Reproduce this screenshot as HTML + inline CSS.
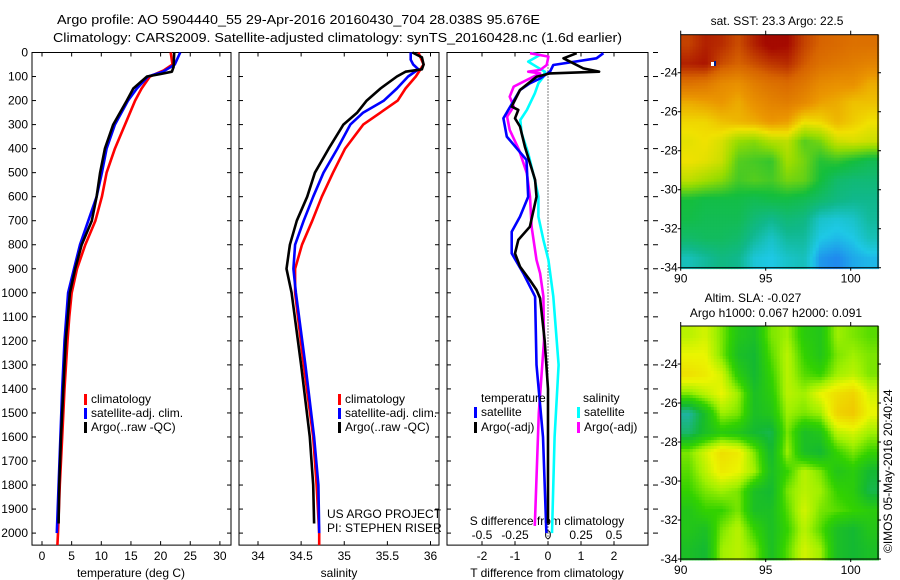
<!DOCTYPE html>
<html><head><meta charset="utf-8"><style>
html,body{margin:0;padding:0;background:#fff;}
svg{display:block;font-family:"Liberation Sans",sans-serif;}
text{fill:#000;}
</style></head><body>
<svg id="chart" width="900" height="580" viewBox="0 0 900 580" xmlns="http://www.w3.org/2000/svg">
<text x="57" y="24" font-size="13" textLength="483" lengthAdjust="spacingAndGlyphs">Argo profile: AO 5904440_55 29-Apr-2016 20160430_704 28.038S 95.676E</text>
<text x="53" y="42" font-size="13" textLength="569" lengthAdjust="spacingAndGlyphs">Climatology: CARS2009. Satellite-adjusted climatology: synTS_20160428.nc (1.6d earlier)</text>
<g id="g1"></g>
<g id="g2"></g>
<g id="g3"></g>
<g id="m1"></g>
<g id="m2"></g>
<text x="777" y="25" font-size="12" text-anchor="middle">sat. SST: 23.3 Argo: 22.5</text>
<text x="753" y="302" font-size="12" text-anchor="middle">Altim. SLA: -0.027</text>
<text x="776" y="317" font-size="12" text-anchor="middle">Argo h1000: 0.067 h2000: 0.091</text>
<text transform="translate(892,553) rotate(-90)" font-size="12">©IMOS 05-May-2016 20:40:24</text>
<text x="327" y="518" font-size="12">US ARGO PROJECT</text>
<text x="327" y="532" font-size="12">PI: STEPHEN RISER</text>
</svg>
<script>
// ---- data ----
const tempClimDepth=[0,50,75,100,150,200,300,400,500,600,700,800,900,1000,1100,1200,1400,1600,1800,2000,2050];
const tempClim=[21.7,22.0,20.5,18.2,16.8,15.7,14.0,12.3,10.9,10.1,9.0,7.3,5.9,5.0,4.6,4.3,3.8,3.4,3.0,2.7,2.6];
const tempSatDepth=[0,50,80,100,150,200,300,400,500,600,700,800,900,1000,1200,1400,1600,1800,2000];
const tempSat=[23.3,22.4,20.4,17.9,16.0,14.5,12.3,10.9,10.1,9.2,7.8,6.4,5.4,4.4,3.8,3.4,3.1,2.8,2.5];
const tempArgoDepth=[0,60,80,90,100,150,200,300,400,500,600,700,800,900,1000,1200,1400,1600,1800,1960];
const tempArgo=[22.3,22.2,21.9,19.9,17.7,15.4,14.3,12.0,10.6,9.8,9.2,8.4,6.7,5.6,4.7,4.0,3.6,3.2,2.9,2.8];

const salClimDepth=[0,50,100,150,200,300,400,500,600,700,800,900,1000,1300,1600,1800,2000,2050];
const salClim=[35.86,35.92,35.83,35.71,35.62,35.22,35.01,34.87,34.74,34.63,34.51,34.43,34.43,34.53,34.64,34.68,34.71,34.71];
const salSatDepth=[0,30,50,70,100,150,200,250,300,400,500,600,700,800,900,1000,1300,1600,1800,2000];
const salSat=[35.77,35.77,35.8,35.86,35.74,35.61,35.46,35.22,35.07,34.92,34.76,34.64,34.53,34.43,34.41,34.44,34.55,34.65,34.70,34.71];
const salArgoDepth=[0,20,50,70,80,100,150,200,250,300,400,500,600,700,800,900,1000,1300,1600,1800,1960];
const salArgo=[35.79,35.9,35.92,35.9,35.71,35.61,35.42,35.26,35.15,34.99,34.82,34.66,34.57,34.45,34.37,34.33,34.39,34.5,34.6,34.64,34.65];

const dTSatDepth=[3,24,52,80,108,128,156,274,350,447,600,683,746,836,919,1016,1300,1600,2000];
const dTSat=[1.68,1.47,0.16,0.06,-0.24,-0.55,-0.85,-1.35,-1.25,-0.65,-0.6,-0.85,-1.1,-1.1,-0.75,-0.39,-0.35,-0.15,-0.05];
const dTArgoDepth=[3,24,66,80,87,101,156,225,239,274,308,392,530,600,725,780,836,891,947,988,1023,1200,1400,1960];
const dTArgo=[0.87,0.47,1.07,1.55,0.06,-0.35,-0.85,-1.1,-0.9,-1.0,-0.85,-0.7,-0.39,-0.35,-0.55,-0.9,-1.0,-0.85,-0.55,-0.35,-0.24,-0.1,0.0,0.0];
const dSSatDepth=[3,10,38,59,80,101,128,170,239,281,336,419,530,600,683,780,863,1016,1300,1600,2000];
const dSSat=[-0.124,-0.06,-0.15,-0.087,-0.023,-0.035,-0.073,-0.1,-0.16,-0.21,-0.2,-0.15,-0.1,-0.073,-0.073,-0.035,0.003,0.04,0.08,0.05,0.03];
const dSArgoDepth=[3,17,52,73,80,87,114,142,184,225,267,322,405,503,600,725,863,919,1016,1200,1500,1970];
const dSArgo=[-0.136,0.003,-0.01,-0.06,-0.15,-0.06,-0.16,-0.26,-0.29,-0.26,-0.31,-0.29,-0.22,-0.16,-0.136,-0.124,-0.087,-0.06,-0.035,-0.03,-0.07,-0.1];

const depthTicks=[0,100,200,300,400,500,600,700,800,900,1000,1100,1200,1300,1400,1500,1600,1700,1800,1900,2000];
const tempTicks=[0,5,10,15,20,25,30];
const salTicks=[34,34.5,35,35.5,36];
const salTickLabels=["34","34.5","35","35.5","36"];
const dTTicks=[-2,-1,0,1,2];
const dSTicks=[-0.5,-0.25,0,0.25,0.5];
const dSTickLabels=["-0.5","-0.25","0","0.25","0.5"];
const lonTicks=[90,95,100];
const latTicks=[-24,-26,-28,-30,-32,-34];

const sstGrid=[
[24.3,24.6,24.5,24.2,24.6,24.9,24.8,24.3,24.0,23.9,23.8,23.8],
[24.6,24.7,24.2,24.0,24.2,24.4,24.5,24.1,23.8,23.7,23.6,23.5],
[23.8,23.7,23.4,23.3,23.6,23.8,23.9,23.7,23.4,23.3,23.3,23.0],
[23.0,23.1,23.2,23.0,23.3,23.5,23.6,23.4,23.1,23.0,22.8,22.8],
[22.6,22.6,22.8,22.9,23.0,23.2,23.1,22.5,22.6,22.9,22.7,22.5],
[22.4,22.5,22.3,21.8,21.7,22.0,22.1,21.4,21.6,22.2,22.3,22.2],
[22.5,22.4,22.2,21.4,21.3,21.2,21.9,21.6,21.1,21.2,21.0,20.8],
[22.1,21.9,21.7,21.3,21.4,21.3,21.6,21.5,21.0,20.6,20.5,20.5],
[21.0,20.9,20.9,20.9,20.8,20.9,20.9,20.8,20.6,20.4,20.3,20.3],
[20.9,20.8,20.8,20.8,20.5,20.3,20.5,20.4,19.9,19.8,19.9,20.2],
[20.6,20.7,20.7,20.6,20.2,19.9,20.2,20.2,19.7,19.6,19.7,20.0],
[20.0,20.2,20.4,20.3,19.8,19.7,19.9,20.0,19.4,19.3,19.5,19.6]];
const slaGrid=[
[0.4,0.5,0.2,-0.2,-0.3,0.2,0.3,-0.1,-0.2,0.3,0.2,0.1],
[0.6,0.6,0.2,-0.3,-0.4,0.1,0.4,0.0,-0.2,0.2,0.3,0.2],
[0.8,0.7,0.5,-0.1,-0.4,0.0,0.4,0.1,0.0,0.3,0.4,0.2],
[0.2,0.4,0.6,0.3,-0.3,-0.1,0.4,0.3,0.6,0.8,0.9,0.5],
[-0.8,-0.3,0.3,0.2,-0.3,-0.2,0.3,0.2,0.3,0.9,1.0,0.6],
[-0.6,-0.3,-0.1,-0.2,-0.4,-0.5,0.2,-0.3,-0.2,0.4,0.5,0.3],
[0.2,0.5,0.8,0.7,0.2,-0.4,0.3,-0.3,-0.4,0.0,0.2,0.0],
[0.1,0.4,0.7,0.6,0.3,-0.3,0.0,0.4,0.2,-0.2,-0.1,-0.4],
[0.0,0.2,0.3,0.2,-0.3,-0.4,0.2,0.4,0.3,0.0,-0.1,-0.5],
[-0.2,0.0,0.0,0.2,-0.3,-0.3,0.1,0.5,0.2,0.1,0.0,-0.1],
[-0.2,-0.3,0.2,0.4,0.0,-0.3,0.0,0.4,0.1,-0.3,-0.4,-0.2],
[-0.3,-0.4,0.3,0.4,0.2,-0.3,0.1,0.5,0.3,-0.3,-0.4,-0.3]];

// ---- scales ----
const NS="http://www.w3.org/2000/svg";
const yD=d=>52.5+d*0.2403;
const xT=t=>42+t*5.93;
const xS=s=>258+(s-34)*86.25;
const xDT=t=>548+t*33;
const xDS=s=>548+s*132;
function mk(parent,tag,attrs){const e=document.createElementNS(NS,tag);for(const k in attrs)e.setAttribute(k,attrs[k]);parent.appendChild(e);return e;}
function txt(parent,x,y,s,anchor,size){const e=mk(parent,'text',{x:x,y:y,'font-size':size||12,'text-anchor':anchor||'start'});e.textContent=s;return e;}
function line(parent,depths,vals,xf,color,name){
  const pts=depths.map((d,i)=>xf(vals[i]).toFixed(1)+','+yD(d).toFixed(1)).join(' ');
  const e=mk(parent,'polyline',{points:pts,fill:'none',stroke:color,'stroke-width':2.6,'stroke-linejoin':'round'});
  
  
}
function frame(g,x0,x1,name){
  const r=mk(g,'rect',{x:x0,y:yD(0),width:x1-x0,height:yD(2050)-yD(0),fill:'none',stroke:'#000','stroke-width':1});
  
  
  depthTicks.forEach(d=>{mk(g,'line',{x1:x0,x2:x0+4,y1:yD(d),y2:yD(d),stroke:'#000'});mk(g,'line',{x1:x1,x2:x1-4,y1:yD(d),y2:yD(d),stroke:'#000'});});
}
function xticks(g,vals,labels,xf){
  vals.forEach((v,i)=>{const x=xf(v);
    mk(g,'line',{x1:x,x2:x,y1:yD(0),y2:yD(0)+4,stroke:'#000'});
    mk(g,'line',{x1:x,x2:x,y1:yD(2050),y2:yD(2050)-4,stroke:'#000'});
    const t=txt(g,x,560,labels[i],'middle');
    
    });
}
function legendBar(g,x,y,color){mk(g,'rect',{x:x,y:y-9,width:3,height:11,fill:color});}

// panel 1
const g1=document.getElementById('g1');
frame(g1,32,231,'temperature-axes');
depthTicks.forEach(d=>{const t=txt(g1,28,yD(d)+4,String(d),'end');
  
  });
xticks(g1,tempTicks,tempTicks.map(String),xT);
txt(g1,131,577,'temperature (deg C)','middle');
line(g1,tempClimDepth,tempClim,xT,'#f00','temp-climatology-line');
line(g1,tempSatDepth,tempSat,xT,'#00f','temp-satellite-line');
line(g1,tempArgoDepth,tempArgo,xT,'#000','temp-argo-line');
legendBar(g1,84,403,'#f00');txt(g1,91,403,'climatology');
legendBar(g1,84,417,'#00f');txt(g1,91,417,'satellite-adj. clim.');
legendBar(g1,84,431,'#000');txt(g1,91,431,'Argo(..raw -QC)');

// panel 2
const g2=document.getElementById('g2');
frame(g2,239,439,'salinity-axes');
xticks(g2,salTicks,salTickLabels,xS);
txt(g2,339,577,'salinity','middle');
line(g2,salClimDepth,salClim,xS,'#f00','sal-climatology-line');
line(g2,salSatDepth,salSat,xS,'#00f','sal-satellite-line');
line(g2,salArgoDepth,salArgo,xS,'#000','sal-argo-line');
legendBar(g2,338,403,'#f00');txt(g2,345,403,'climatology');
legendBar(g2,338,417,'#00f');txt(g2,345,417,'satellite-adj. clim.');
legendBar(g2,338,431,'#000');txt(g2,345,431,'Argo(..raw -QC)');

// panel 3
const g3=document.getElementById('g3');
frame(g3,447,648,'difference-axes');
depthTicks.forEach(d=>mk(g3,'line',{x1:653,x2:658,y1:yD(d),y2:yD(d),stroke:'#000'}));
xticks(g3,dTTicks,dTTicks.map(String),xDT);
mk(g3,'line',{x1:548,x2:548,y1:yD(0),y2:yD(2050),stroke:'#000','stroke-dasharray':'1,2'});
dSTicks.forEach((v,i)=>txt(g3,xDS(v),539,dSTickLabels[i],'middle'));
txt(g3,547,525,'S difference from climatology','middle');
txt(g3,547,577,'T difference from climatology','middle');
line(g3,dSSatDepth,dSSat,xDS,'#0ff','s-diff-satellite-line');
line(g3,dSArgoDepth,dSArgo,xDS,'#f0f','s-diff-argo-line');
line(g3,dTSatDepth,dTSat,xDT,'#00f','t-diff-satellite-line');
line(g3,dTArgoDepth,dTArgo,xDT,'#000','t-diff-argo-line');
txt(g3,481,402,'temperature');txt(g3,583,402,'salinity');
legendBar(g3,474,416,'#00f');txt(g3,481,416,'satellite');
legendBar(g3,474,431,'#000');txt(g3,481,431,'Argo(-adj)');
legendBar(g3,577,416,'#0ff');txt(g3,584,416,'satellite');
legendBar(g3,577,431,'#f0f');txt(g3,584,431,'Argo(-adj)');

// maps
function interp(stops,v){
  if(v<=stops[0][0])return stops[0][1];
  for(let i=1;i<stops.length;i++){if(v<=stops[i][0]){const a=stops[i-1],b=stops[i],f=(v-a[0])/(b[0]-a[0]);
    return a[1].map((c,k)=>Math.round(c+(b[1][k]-c)*f));}}
  return stops[stops.length-1][1];
}
const sstStops=[[19.2,[32,120,240]],[19.7,[30,200,230]],[20.3,[16,184,140]],[21.0,[20,190,60]],[21.8,[150,220,0]],[22.5,[240,225,0]],[23.2,[235,150,0]],[24.0,[215,100,0]],[24.8,[165,10,0]]];
const slaStops=[[-0.8,[30,180,160]],[-0.4,[20,185,50]],[0,[50,210,0]],[0.3,[160,240,0]],[0.6,[235,245,0]],[1.0,[240,200,0]]];
function sample(grid,fx,fy){
  const R=grid.length,C=grid[0].length;
  let x=fx*C-0.5,y=fy*R-0.5;x=Math.max(0,Math.min(C-1,x));y=Math.max(0,Math.min(R-1,y));
  const x0=Math.floor(x),y0=Math.floor(y),x1=Math.min(C-1,x0+1),y1=Math.min(R-1,y0+1),ax=x-x0,ay=y-y0;
  return grid[y0][x0]*(1-ax)*(1-ay)+grid[y0][x1]*ax*(1-ay)+grid[y1][x0]*(1-ax)*ay+grid[y1][x1]*ax*ay;
}
const mapX0=680.7,mapX1=878,lonX=l=>mapX0+(l-90)*17;
function drawMap(gid,grid,stops,top,name){
  const g=document.getElementById(gid);
  const bot=top+(34-22.05)*19.5;const latY=la=>top+(-22.05-la)*19.5;
  const step=3;
  for(let y=top;y<bot;y+=step){for(let x=mapX0;x<mapX1;x+=step){
    const v=sample(grid,(x-mapX0+step/2)/(mapX1-mapX0),(y-top+step/2)/(bot-top));
    const c=interp(stops,v);
    mk(g,'rect',{x:x.toFixed(1),y:y.toFixed(1),width:step+0.4,height:step+0.4,fill:'rgb('+c.join(',')+')'});
  }}
  const r=mk(g,'rect',{x:mapX0,y:top,width:mapX1-mapX0,height:bot-top,fill:'none',stroke:'#000'});
  
  
  lonTicks.forEach(l=>{const x=lonX(l);
    mk(g,'line',{x1:x,x2:x,y1:top,y2:top-4,stroke:'#000'});
    mk(g,'line',{x1:x,x2:x,y1:bot,y2:bot+3,stroke:'#000'});
    txt(g,x,bot+15,String(l),'middle');});
  latTicks.forEach(la=>{const y=latY(la);
    mk(g,'line',{x1:mapX0,x2:mapX0-3,y1:y,y2:y,stroke:'#000'});
    mk(g,'line',{x1:mapX1,x2:mapX1+3,y1:y,y2:y,stroke:'#000'});
    txt(g,mapX0-3,y+4,String(la),'end');});
  return {top,bot,latY};
}
drawMap('m1',sstGrid,sstStops,34.7,'sst-map');
drawMap('m2',slaGrid,slaStops,326,'sla-map');
const m1=document.getElementById('m1');
mk(m1,'rect',{x:711,y:62,width:3,height:4,fill:'#fff'});
mk(m1,'rect',{x:714,y:61,width:2,height:5,fill:'#00208a'});
</script>
</body></html>
